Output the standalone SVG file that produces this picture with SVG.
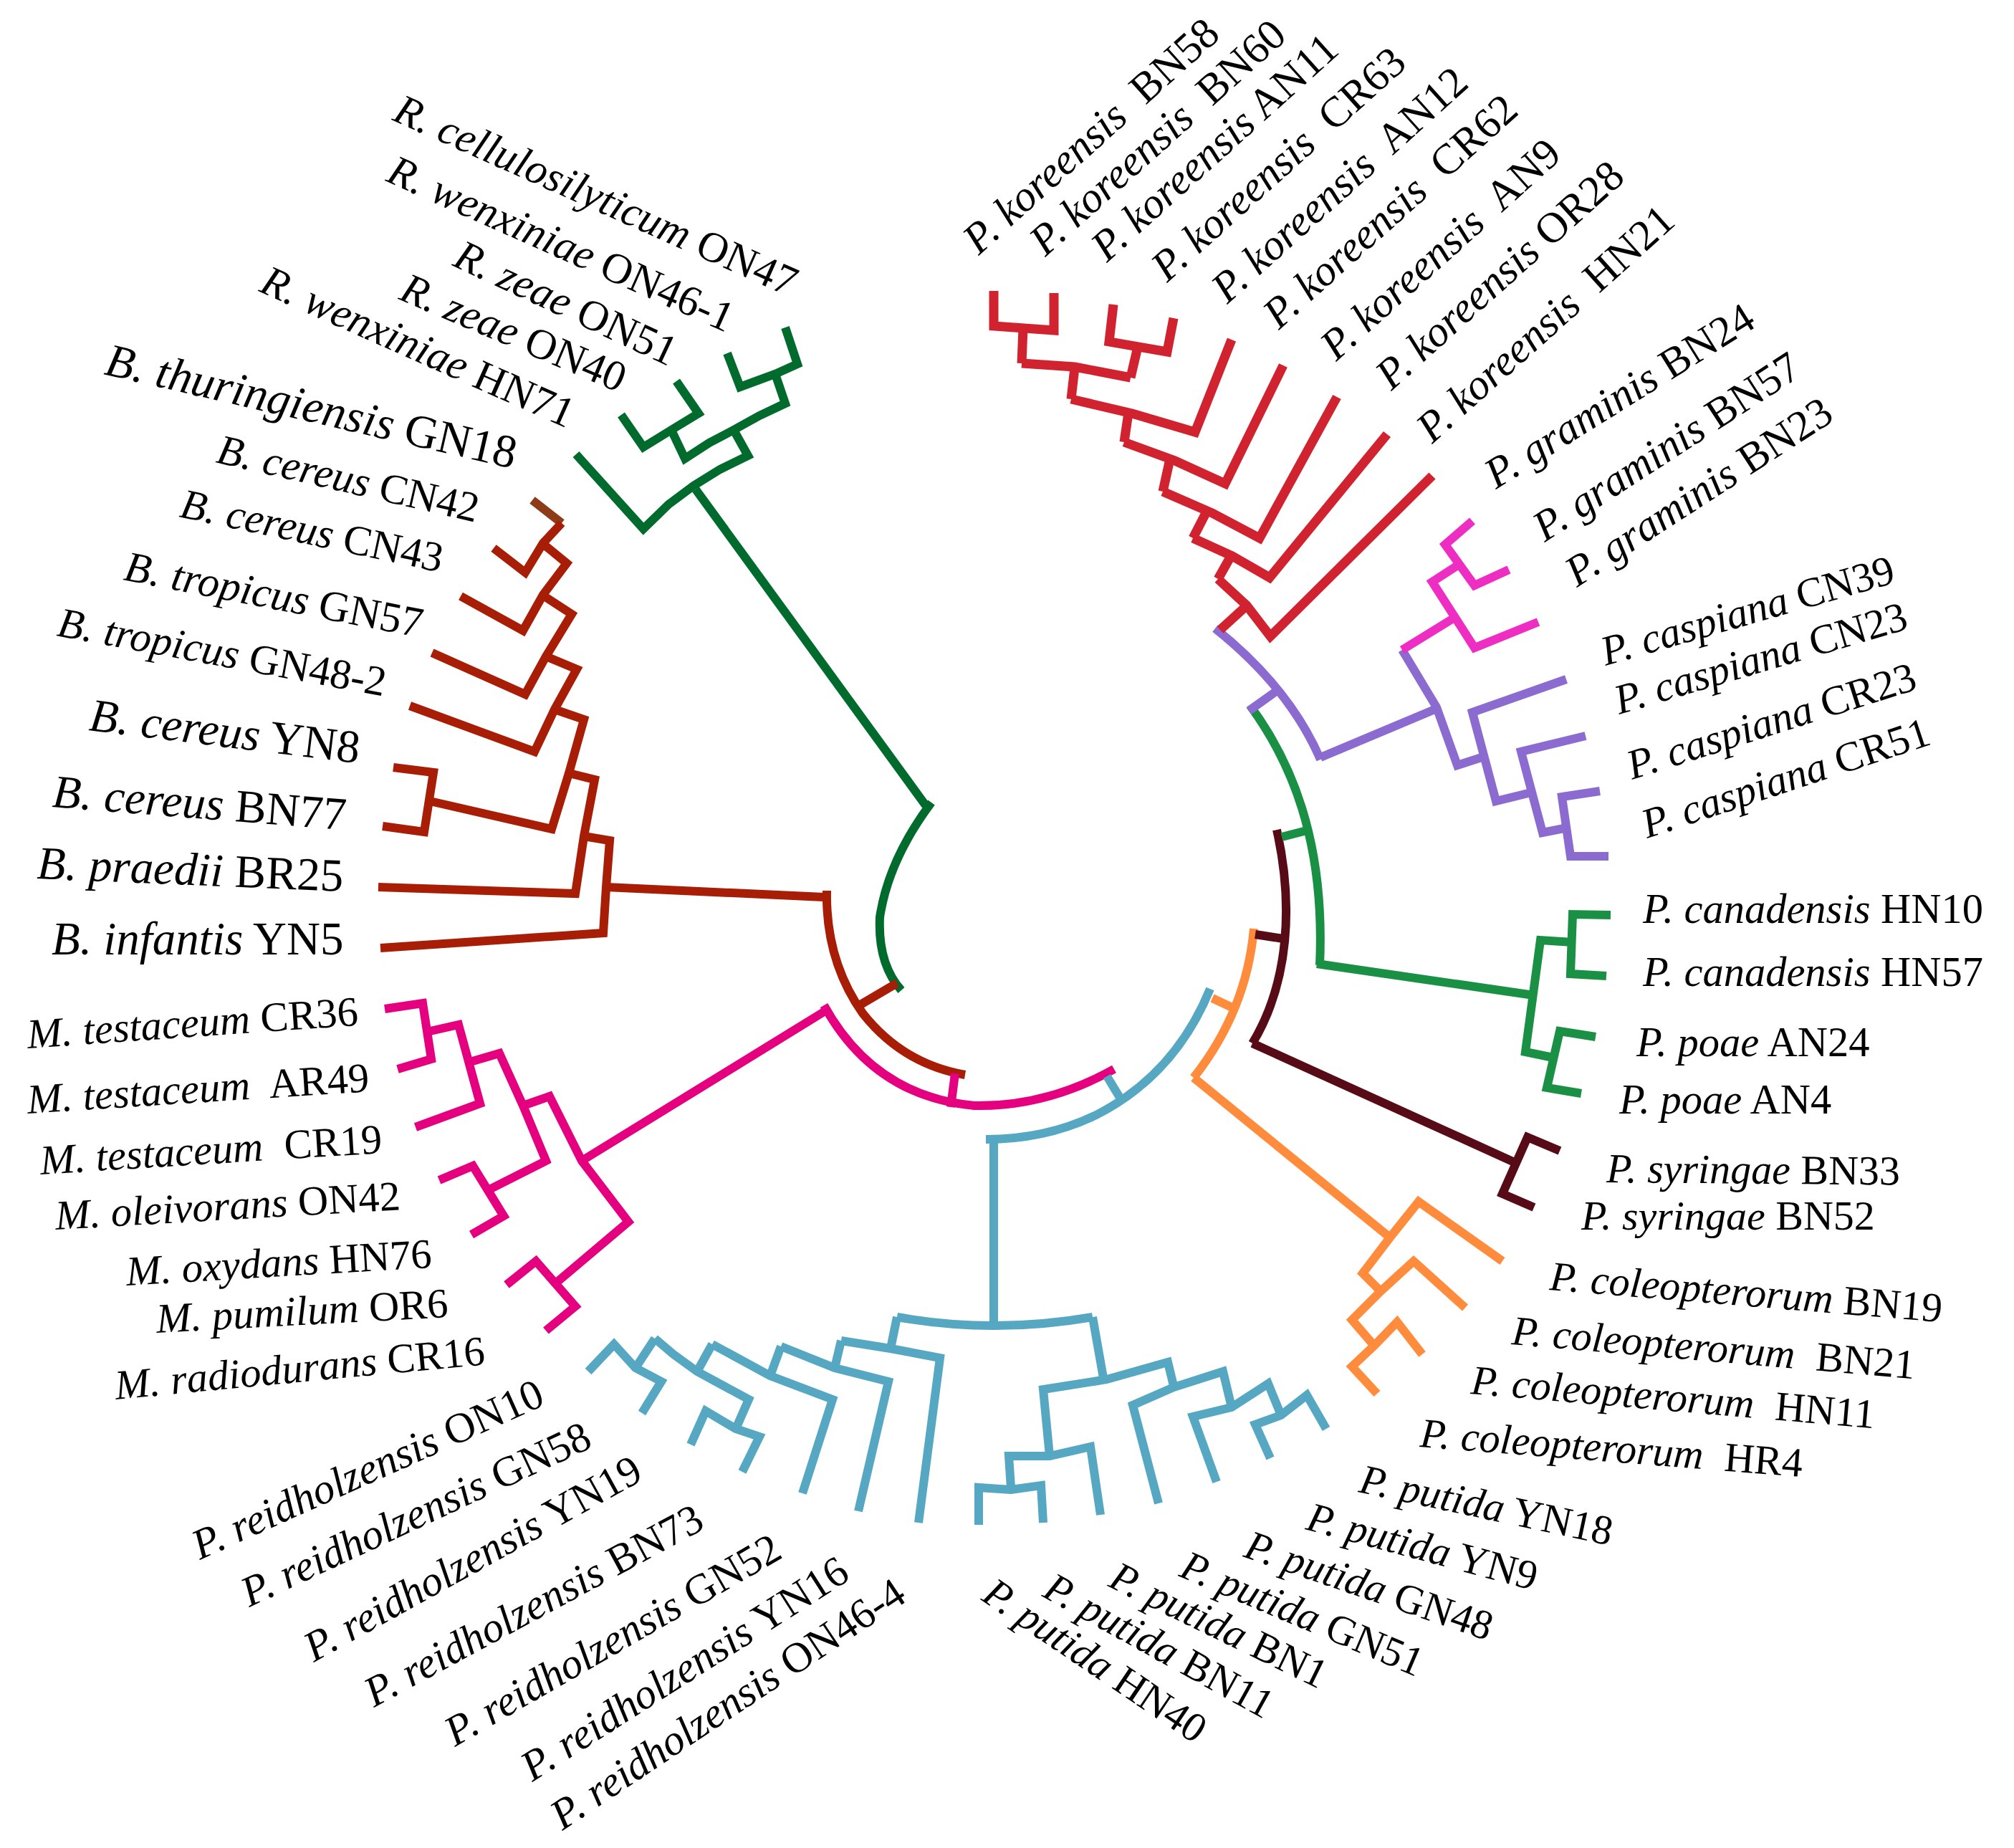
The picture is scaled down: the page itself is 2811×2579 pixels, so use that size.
<svg xmlns="http://www.w3.org/2000/svg" width="2811" height="2579" viewBox="0 0 2811 2579">
<style>
.t{font-family:"Liberation Serif","Times New Roman",serif;font-size:60px;fill:#000}
.i{font-style:italic}
.b{fill:none;stroke-width:12;stroke-linecap:square;stroke-linejoin:miter}
.rg{stroke:#006B2D}.br{stroke:#A71D05}.bt{stroke:#8E3B1A}.mg{stroke:#E4007F}.bl{stroke:#56A7C2}
.or{stroke:#FF8B3D}.mr{stroke:#560B17}.gn{stroke:#1A9045}.pu{stroke:#8B6BCF}.gm{stroke:#EE2EC3}.kr{stroke:#D1232F;stroke-width:13}
.c{stroke-linecap:butt}
</style>
<rect width="2811" height="2579" fill="#fff"/>
<g id="connectors">
<path class="b rg c" stroke-width="21" d="M1300,1120 Q1240,1200 1228,1280 Q1225,1345 1258,1382"/>
<path class="b br c" stroke-width="17" d="M1201,1402 L1252,1372"/>
<path class="b br c" stroke-width="21" d="M1154,1243 Q1152,1340 1204,1414 Q1260,1485 1347,1500"/>
<path class="b mg c" stroke-width="18" d="M1333,1498 L1327,1545"/>
<path class="b mg c" stroke-width="23" d="M1150,1403 Q1220,1530 1360,1543 Q1460,1545 1555,1492"/>
<path class="b bl c" stroke-width="15" d="M1545,1502 L1565,1535"/>
<path class="b bl c" stroke-width="22" d="M1689,1380 Q1640,1500 1530,1556 Q1460,1590 1376,1590"/>
<path class="b bl c" stroke-width="13" d="M1387,1590 L1387,1851"/>
<path class="b or c" stroke-width="13" d="M1750,1296 Q1740,1410 1666,1504"/>
<path class="b or c" stroke-width="11" d="M1692,1393 L1724,1408"/>
<path class="b mr c" d="M1782,1158 C1805,1260 1800,1370 1748,1456"/>
<path class="b mr c" d="M1752,1304 L1791,1310"/>
<path class="b gn c" d="M1745,985 C1800,1060 1850,1170 1842,1347"/>
<path class="b gn c" d="M1824,1159 L1789,1168"/>
<path class="b pu c" d="M1696,877 Q1800,960 1843,1060"/>
<path class="b pu c" d="M1785,962 L1743,992"/>
<path class="b rg c" d="M971,683 L1292,1124"/>
<path class="b rg c" d="M804,634 L898,738 L933,704 L968,678 L1005,655 L1044,636 L1024,600"/>
<path class="b rg c" d="M937,600 L956,640 L990,618 L1024,600 L1060,580 L1096,563 L1082,522"/>
<path class="b rg c" d="M867,579 L898,624 L937,600 L975,577 L944,532"/>
<path class="b rg c" d="M1015,493 L1033,540 L1082,522 L1113,508 L1096,457"/>
<path class="b bt c" d="M743,698 L784,730"/>
<path class="b br c" d="M784,730 L758,758 L733,799 L689,765"/>
<path class="b br c" d="M758,759 L791,786 L758,830 L730,880 L643,832"/>
<path class="b br c" d="M758,831 L798,857 L762,916 L733,969 L603,911"/>
<path class="b br c" d="M762,916 L805,934 L774,990 L746,1049 L572,985"/>
<path class="b br c" d="M774,990 L815,1004 L794,1079 L770,1157 L600,1118"/>
<path class="b br c" d="M549,1071 L605,1078 L592,1161 L534,1153"/>
<path class="b br c" d="M794,1079 L830,1088 L815,1167 L803,1247 L528,1238"/>
<path class="b br c" d="M815,1167 L851,1173 L846,1238 L842,1302 L531,1323"/>
<path class="b br c" d="M846,1238 L1150,1252"/>
<path class="b mg c" d="M812,1620 L1150,1412"/>
<path class="b mg c" d="M537,1408 L590,1400 L602,1478 L555,1492"/>
<path class="b mg c" d="M596,1440 L640,1430 L670,1540 L580,1573"/>
<path class="b mg c" d="M656,1482 L697,1470 L730,1543 L762,1620 L683,1660"/>
<path class="b mg c" d="M730,1543 L767,1530 L812,1620 L877,1705 L773,1793"/>
<path class="b mg c" d="M613,1647 L660,1627 L703,1697 L658,1723"/>
<path class="b mg c" d="M707,1793 L748,1760 L803,1823 L762,1857"/>
<path class="b bl c" d="M1252,1838 Q1387,1862 1525,1838"/>
<path class="b bl c" d="M1252,1838 L1243,1882"/>
<path class="b bl c" d="M1174,1871 L1243,1882 L1312,1895 L1282,2125"/>
<path class="b bl c" d="M1174,1871 L1165,1909"/>
<path class="b bl c" d="M1090,1879 L1165,1909 L1240,1928 L1198,2109"/>
<path class="b bl c" d="M1090,1879 L1075,1920"/>
<path class="b bl c" d="M994,1876 L1075,1920 L1162,1953 L1120,2084"/>
<path class="b bl c" d="M994,1876 L973,1914"/>
<path class="b bl c" d="M914,1868 L940,1890 L973,1914 L1045,1953 L1027,1994"/>
<path class="b bl c" d="M964,2016 L985,1969 L1027,1994 L1060,2005 L1036,2054"/>
<path class="b bl c" d="M914,1868 L887,1909"/>
<path class="b bl c" d="M821,1914 L857,1876 L887,1909 L923,1928 L896,1972"/>
<path class="b bl c" d="M1525,1838 L1540,1923"/>
<path class="b bl c" d="M1465,2032 L1456,1939 L1545,1925 L1630,1901 L1638,1934"/>
<path class="b bl c" d="M1411,2076 L1408,2032 L1465,2032 L1522,2019 L1536,2114"/>
<path class="b bl c" d="M1366,2128 L1366,2076 L1411,2079 L1453,2073 L1456,2125"/>
<path class="b bl c" d="M1617,2098 L1581,1961 L1638,1936 L1707,1914 L1719,1964"/>
<path class="b bl c" d="M1698,2068 L1665,1977 L1719,1964 L1770,1931 L1788,1975"/>
<path class="b bl c" d="M1773,2035 L1752,1988 L1788,1975 L1824,1947 L1851,1994"/>
<path class="b or c" d="M1666,1504 L1940,1727"/>
<path class="b or c" d="M2097,1760 L1980,1677 L1940,1727 L1902,1777 L1927,1802"/>
<path class="b or c" d="M2045,1825 L1973,1760 L1927,1802 L1887,1842 L1918,1878"/>
<path class="b or c" d="M1985,1890 L1950,1845 L1918,1878 L1887,1907 L1922,1945"/>
<path class="b mr c" d="M1748,1456 L2118,1624"/>
<path class="b mr c" d="M2177,1606 L2132,1587 L2097,1666 L2141,1685"/>
<path class="b gn c" d="M1838,1345 L2141,1389"/>
<path class="b gn c" d="M2195,1315 L2150,1312 L2129,1468 L2168,1476"/>
<path class="b gn c" d="M2248,1277 L2195,1276 L2192,1359 L2242,1362"/>
<path class="b gn c" d="M2227,1447 L2177,1439 L2159,1518 L2207,1526"/>
<path class="b pu c" d="M1843,1057 L2005,989"/>
<path class="b pu c" d="M1957,907 L2005,987 L2034,1068 L2071,1056"/>
<path class="b pu c" d="M2186,948 L2055,994 L2088,1118 L2137,1106"/>
<path class="b pu c" d="M2213,1027 L2123,1049 L2153,1162 L2188,1155"/>
<path class="b pu c" d="M2233,1104 L2180,1112 L2192,1195 L2245,1195"/>
<path class="b gm c" d="M1957,907 L2030,862"/>
<path class="b gm c" d="M2147,868 L2058,904 L1999,812 L2036,788"/>
<path class="b gm c" d="M2055,727 L2017,760 L2058,817 L2106,795"/>
<path class="b kr c" d="M1387,406 L1387,455 L1471,461 L1471,409"/>
<path class="b kr c" d="M1428,458 L1426,507"/>
<path class="b kr c" d="M1554,425 L1548,477 L1629,491 L1638,444"/>
<path class="b kr c" d="M1588,484 L1578,527"/>
<path class="b kr c" d="M1426,507 L1500,512 L1578,527"/>
<path class="b kr c" d="M1500,513 L1495,557"/>
<path class="b kr c" d="M1495,557 L1580,577 L1668,603 L1719,474"/>
<path class="b kr c" d="M1575,576 L1569,617"/>
<path class="b kr c" d="M1569,617 L1640,643 L1710,675 L1791,510"/>
<path class="b kr c" d="M1632,645 L1623,686"/>
<path class="b kr c" d="M1623,686 L1692,716 L1758,751 L1866,554"/>
<path class="b kr c" d="M1683,716 L1665,751"/>
<path class="b kr c" d="M1665,751 L1720,776 L1772,806 L1936,606"/>
<path class="b kr c" d="M1718,776 L1700,808"/>
<path class="b kr c" d="M1700,808 L1740,845 L1773,888 L1999,664"/>
<path class="b kr c" d="M1737,848 L1703,879"/>
</g>
<g id="labels">
<g id="n-ON47"><text class="t" transform="translate(546,167) rotate(24)"><tspan class="i">R. cellulosilyticum</tspan> ON47</text></g>
<g id="n-ON46-1"><text class="t" transform="translate(537,252) rotate(24)"><tspan class="i">R. wenxiniae</tspan> ON46-1</text></g>
<g id="n-ON51"><text class="t" transform="translate(630,370) rotate(25)"><tspan class="i">R. zeae</tspan> ON51</text></g>
<g id="n-ON40"><text class="t" transform="translate(555,417) rotate(23)"><tspan class="i">R. zeae</tspan> ON40</text></g>
<g id="n-HN71"><text class="t" transform="translate(360,406) rotate(24)"><tspan class="i">R. wenxiniae</tspan> HN71</text></g>
<g id="n-GN18"><text class="t" style="font-size:65px" transform="translate(144,522) rotate(13)"><tspan class="i">B. thuringiensis</tspan> GN18</text></g>
<g id="n-CN42"><text class="t" style="font-size:59px" transform="translate(300,645) rotate(13)"><tspan class="i">B. cereus</tspan> CN42</text></g>
<g id="n-CN43"><text class="t" style="font-size:59px" transform="translate(249,721) rotate(12)"><tspan class="i">B. cereus</tspan> CN43</text></g>
<g id="n-GN57"><text class="t" transform="translate(171,809) rotate(11)"><tspan class="i">B. tropicus</tspan> GN57</text></g>
<g id="n-GN48-2"><text class="t" style="font-size:59px" transform="translate(78,887) rotate(10.5)"><tspan class="i">B. tropicus</tspan> GN48-2</text></g>
<g id="n-YN8"><text class="t" style="font-size:65px" transform="translate(123,1019) rotate(7)"><tspan class="i">B. cereus</tspan> YN8</text></g>
<g id="n-BN77"><text class="t" style="font-size:65px" transform="translate(72,1126) rotate(4.5)"><tspan class="i">B. cereus</tspan> BN77</text></g>
<g id="n-BR25"><text class="t" style="font-size:65px" transform="translate(51,1226) rotate(2.4)"><tspan class="i">B. praedii</tspan> BR25</text></g>
<g id="n-YN5"><text class="t" style="font-size:65px" transform="translate(72,1332)"><tspan class="i">B. infantis</tspan> YN5</text></g>
<g id="n-CR36"><text class="t" style="font-size:58.5px" transform="translate(39,1463) rotate(-4)"><tspan class="i">M. testaceum</tspan> CR36</text></g>
<g id="n-AR49"><text class="t" style="font-size:58.5px" transform="translate(39,1554) rotate(-3.7)"><tspan class="i">M. testaceum</tspan><tspan dx="15"> AR49</tspan></text></g>
<g id="n-CR19"><text class="t" style="font-size:58.5px" transform="translate(57,1639) rotate(-3.6)"><tspan class="i">M. testaceum</tspan><tspan dx="15"> CR19</tspan></text></g>
<g id="n-ON42"><text class="t" style="font-size:58.5px" transform="translate(78,1716) rotate(-3.3)"><tspan class="i">M. oleivorans</tspan> ON42</text></g>
<g id="n-HN76"><text class="t" style="font-size:58.5px" transform="translate(177,1794) rotate(-3.4)"><tspan class="i">M. oxydans</tspan> HN76</text></g>
<g id="n-OR6"><text class="t" style="font-size:58.5px" transform="translate(219,1860) rotate(-3.1)"><tspan class="i">M. pumilum</tspan> OR6</text></g>
<g id="n-CR16"><text class="t" style="font-size:58.5px" transform="translate(162,1953) rotate(-5.4)"><tspan class="i">M. radiodurans</tspan> CR16</text></g>
<g id="n-ON10"><text class="t" style="font-size:59.5px" transform="translate(279,2177) rotate(-24.2)"><tspan class="i">P. reidholzensis</tspan> ON10</text></g>
<g id="n-GN58"><text class="t" style="font-size:59.5px" transform="translate(348,2243) rotate(-25)"><tspan class="i">P. reidholzensis</tspan> GN58</text></g>
<g id="n-YN19"><text class="t" style="font-size:59.5px" transform="translate(438,2320) rotate(-29)"><tspan class="i">P. reidholzensis</tspan> YN19</text></g>
<g id="n-BN73"><text class="t" style="font-size:59.5px" transform="translate(522,2383) rotate(-28.4)"><tspan class="i">P. reidholzensis</tspan> BN73</text></g>
<g id="n-GN52"><text class="t" style="font-size:59.5px" transform="translate(635,2438) rotate(-30)"><tspan class="i">P. reidholzensis</tspan> GN52</text></g>
<g id="n-YN16"><text class="t" style="font-size:59.5px" transform="translate(743,2487) rotate(-32.5)"><tspan class="i">P. reidholzensis</tspan> YN16</text></g>
<g id="n-ON46-4"><text class="t" style="font-size:59.5px" transform="translate(785,2555) rotate(-33.7)"><tspan class="i">P. reidholzensis</tspan> ON46-4</text></g>
<g id="n-HN40"><text class="t" style="font-size:58px" transform="translate(1368,2232) rotate(34)"><tspan class="i">P. putida</tspan> HN40</text></g>
<g id="n-BN11"><text class="t" style="font-size:58px" transform="translate(1453,2227) rotate(29)"><tspan class="i">P. putida</tspan> BN11</text></g>
<g id="n-BN1"><text class="t" style="font-size:58px" transform="translate(1545,2213) rotate(26)"><tspan class="i">P. putida</tspan> BN1</text></g>
<g id="n-GN51"><text class="t" style="font-size:58px" transform="translate(1644,2199) rotate(23)"><tspan class="i">P. putida</tspan> GN51</text></g>
<g id="n-GN48"><text class="t" style="font-size:58px" transform="translate(1734,2172) rotate(19)"><tspan class="i">P. putida</tspan> GN48</text></g>
<g id="n-YN9"><text class="t" style="font-size:58px" transform="translate(1821,2134) rotate(15)"><tspan class="i">P. putida</tspan> YN9</text></g>
<g id="n-YN18"><text class="t" style="font-size:58px" transform="translate(1895,2082) rotate(12)"><tspan class="i">P. putida</tspan> YN18</text></g>
<g id="n-BN19"><text class="t" style="font-size:58px" transform="translate(2162,1800) rotate(4.7)"><tspan class="i">P. coleopterorum</tspan> BN19</text></g>
<g id="n-BN21"><text class="t" style="font-size:58px" transform="translate(2109,1876) rotate(4.9)"><tspan class="i">P. coleopterorum</tspan><tspan dx="15"> BN21</tspan></text></g>
<g id="n-HN11"><text class="t" style="font-size:58px" transform="translate(2052,1945) rotate(4.9)"><tspan class="i">P. coleopterorum</tspan><tspan dx="15"> HN11</tspan></text></g>
<g id="n-HR4"><text class="t" style="font-size:58px" transform="translate(1981,2019) rotate(4.5)"><tspan class="i">P. coleopterorum</tspan><tspan dx="15"> HR4</tspan></text></g>
<g id="n-BN33"><text class="t" style="font-size:58px" transform="translate(2242,1650) rotate(0.5)"><tspan class="i">P. syringae</tspan> BN33</text></g>
<g id="n-BN52"><text class="t" style="font-size:58px" transform="translate(2207,1716)"><tspan class="i">P. syringae</tspan> BN52</text></g>
<g id="n-HN10"><text class="t" style="font-size:58.5px" transform="translate(2293,1288)"><tspan class="i">P. canadensis</tspan> HN10</text></g>
<g id="n-HN57"><text class="t" style="font-size:58.5px" transform="translate(2293,1376)"><tspan class="i">P. canadensis</tspan> HN57</text></g>
<g id="n-AN24"><text class="t" style="font-size:58.5px" transform="translate(2284,1474)"><tspan class="i">P. poae</tspan> AN24</text></g>
<g id="n-AN4"><text class="t" style="font-size:58.5px" transform="translate(2260,1554)"><tspan class="i">P. poae</tspan> AN4</text></g>
<g id="n-CN39"><text class="t" style="font-size:58.5px" transform="translate(2241,929) rotate(-16)"><tspan class="i">P. caspiana</tspan> CN39</text></g>
<g id="n-CN23"><text class="t" style="font-size:58.5px" transform="translate(2260,997) rotate(-16.5)"><tspan class="i">P. caspiana</tspan> CN23</text></g>
<g id="n-CR23"><text class="t" style="font-size:58.5px" transform="translate(2278,1088) rotate(-17.6)"><tspan class="i">P. caspiana</tspan> CR23</text></g>
<g id="n-CR51"><text class="t" style="font-size:58.5px" transform="translate(2299,1170) rotate(-18.3)"><tspan class="i">P. caspiana</tspan> CR51</text></g>
<g id="n-BN24"><text class="t" transform="translate(2088,683) rotate(-32)"><tspan class="i">P. graminis</tspan> BN24</text></g>
<g id="n-BN57"><text class="t" transform="translate(2156,757) rotate(-33)"><tspan class="i">P. graminis</tspan> BN57</text></g>
<g id="n-BN23"><text class="t" transform="translate(2201,820) rotate(-33)"><tspan class="i">P. graminis</tspan> BN23</text></g>
<g id="n-BN58"><text class="t" transform="translate(1366,357) rotate(-42)"><tspan class="i">P. koreensis</tspan><tspan dx="15"> BN58</tspan></text></g>
<g id="n-BN60"><text class="t" transform="translate(1459,359) rotate(-42)"><tspan class="i">P. koreensis</tspan><tspan dx="15"> BN60</tspan></text></g>
<g id="n-AN11"><text class="t" transform="translate(1545,367) rotate(-42)"><tspan class="i">P. koreensis</tspan> AN11</text></g>
<g id="n-CR63"><text class="t" transform="translate(1629,395) rotate(-42)"><tspan class="i">P. koreensis</tspan><tspan dx="15"> CR63</tspan></text></g>
<g id="n-AN12"><text class="t" transform="translate(1713,425) rotate(-42)"><tspan class="i">P. koreensis</tspan><tspan dx="15"> AN12</tspan></text></g>
<g id="n-CR62"><text class="t" transform="translate(1785,461) rotate(-42)"><tspan class="i">P. koreensis</tspan><tspan dx="15"> CR62</tspan></text></g>
<g id="n-AN9"><text class="t" transform="translate(1865,505) rotate(-42)"><tspan class="i">P. koreensis</tspan><tspan dx="15"> AN9</tspan></text></g>
<g id="n-OR28"><text class="t" transform="translate(1942,546) rotate(-42)"><tspan class="i">P. koreensis</tspan> OR28</text></g>
<g id="n-HN21"><text class="t" transform="translate(1999,620) rotate(-42)"><tspan class="i">P. koreensis</tspan><tspan dx="15"> HN21</tspan></text></g>
</g>
</svg>
